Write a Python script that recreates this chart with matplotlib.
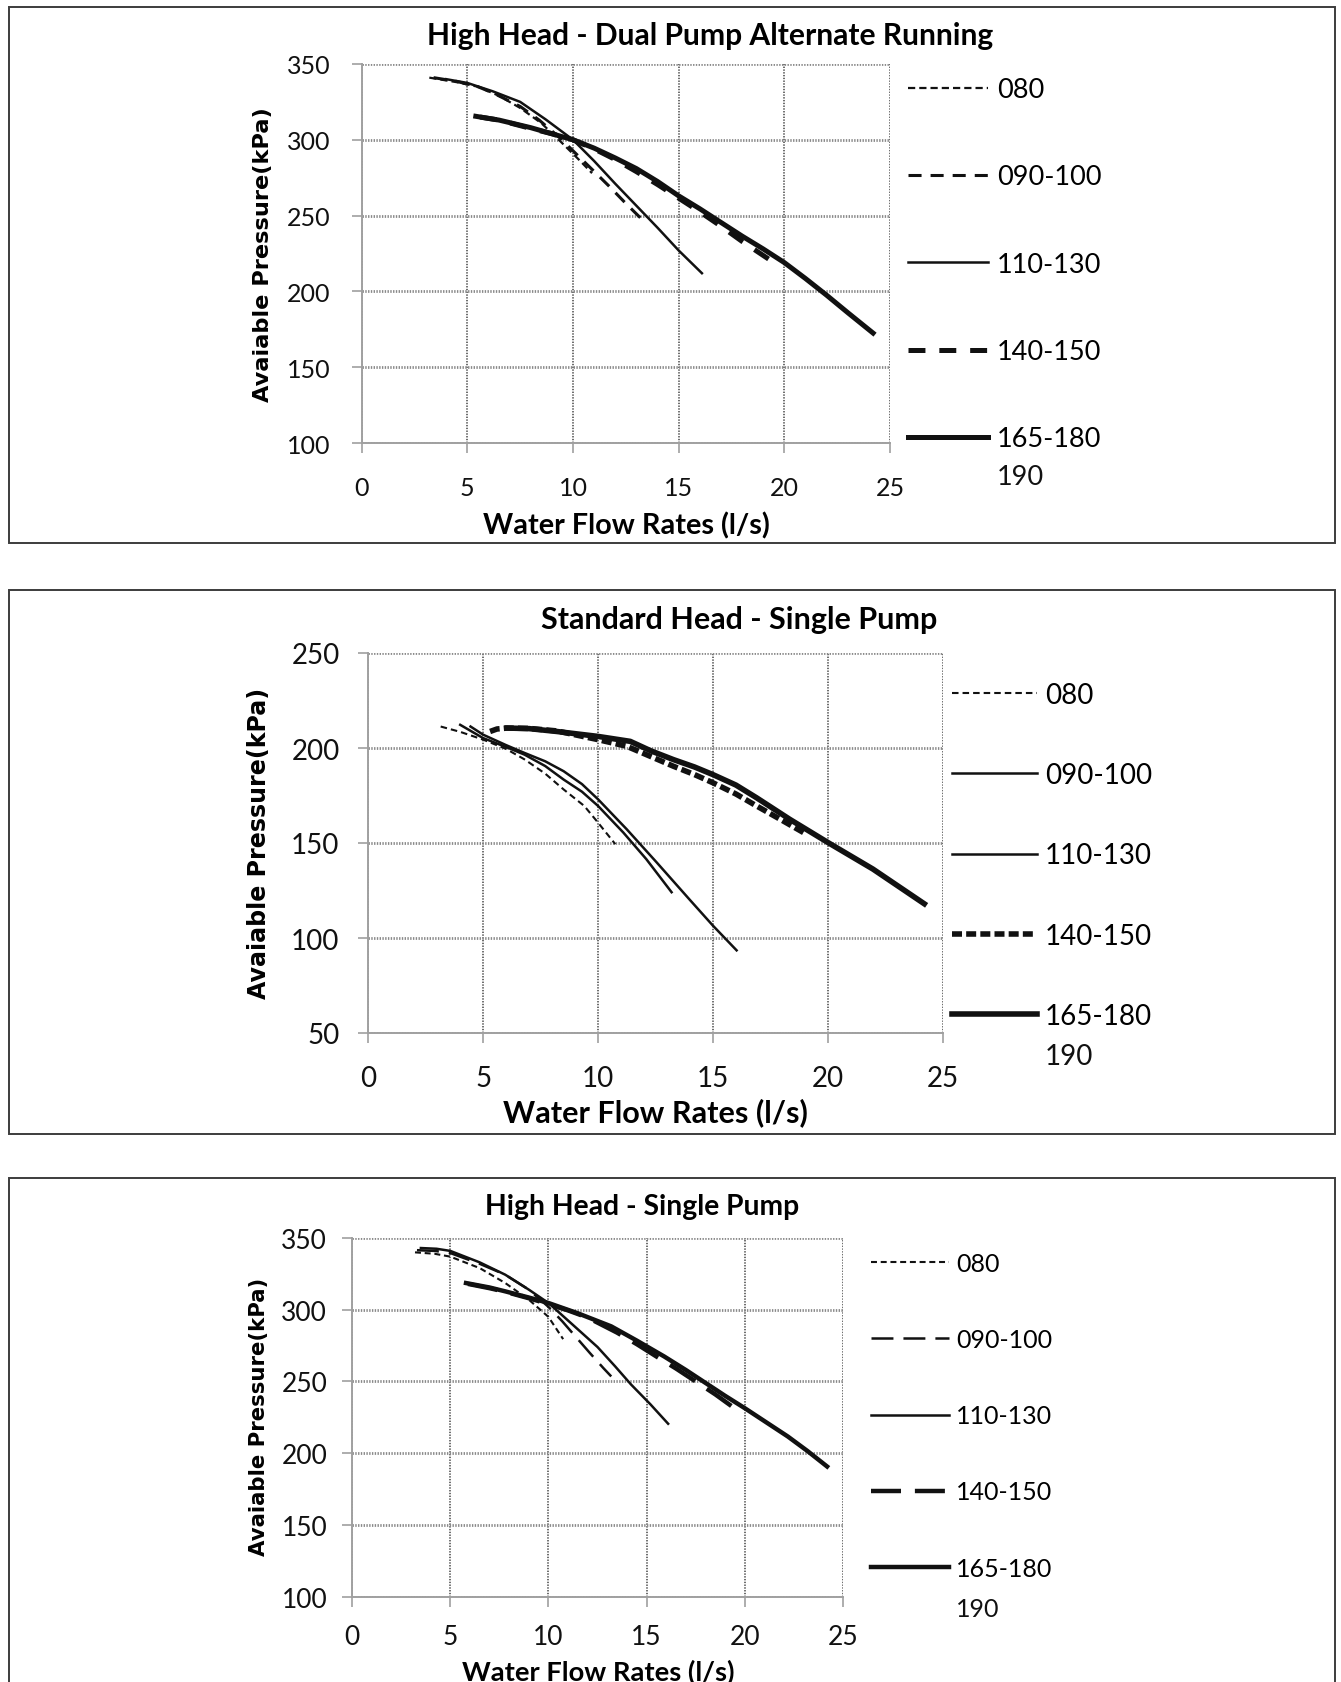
import matplotlib
matplotlib.use("Agg")
import matplotlib.pyplot as plt
from matplotlib.patches import Rectangle
from matplotlib.transforms import Bbox, TransformedBbox

W, H = 1341, 1683
plt.rcParams["font.family"] = ["Lato", "DejaVu Sans"]
plt.rcParams["lines.scale_dashes"] = False

SERIES = ["080", "090-100", "110-130", "140-150", "165-180"]

# ---- High Head - Dual Pump Alternate Running (flow l/s, pressure kPa) ----
dual_x = [
    [3.2, 4.5, 5.5, 6.5, 7.5, 8.5, 9.4, 10.2, 10.9],
    [3.4, 4.5, 5.5, 6.2, 7.5, 8.4, 9.4, 10.2, 10.9, 11.7, 12.5, 13.3],
    [4.0, 5.0, 6.2, 7.5, 8.7, 10.0, 11.0, 12.0, 13.0, 14.0, 15.0, 16.1],
    [5.6, 6.5, 8.0, 9.0, 10.0, 11.0, 12.0, 13.0, 14.0, 15.0, 16.0, 17.0, 18.0, 19.4],
    [5.4, 6.5, 8.0, 9.0, 10.0, 11.0, 12.0, 13.0, 14.0, 15.0, 16.0, 17.0, 18.0, 19.0,
     20.0, 21.0, 22.0, 23.0, 24.2],
]
dual_y = [
    [341, 338, 335, 329, 321, 311, 299, 288, 278],
    [341, 338.5, 335, 331, 322, 313, 301, 290, 280.5, 269.5, 258, 247],
    [340, 337.5, 332, 325, 313.5, 300, 286, 271, 256.5, 242, 227, 212],
    [315, 313, 307.5, 304, 300, 294, 287, 279, 270.5, 261.5, 252.5, 243, 233, 220],
    [315.5, 313, 308, 304, 300, 294.5, 288, 281, 272.5, 263, 254.5, 245.5, 236.5, 228,
     219, 208.5, 197.5, 186, 172.5],
]

# ---- Standard Head - Single Pump ----
std_x = [
    [3.15, 4.0, 5.0, 6.0, 6.8, 7.7, 8.5, 9.4, 10.0, 10.75],
    [4.0, 5.0, 6.0, 6.8, 7.7, 8.5, 9.3, 10.0, 11.1, 12.1, 13.2],
    [4.45, 5.0, 6.0, 6.8, 7.7, 8.5, 9.3, 10.0, 11.25, 12.55, 14.0, 15.0, 16.03],
    [5.3, 5.6, 6.04, 7.0, 8.2, 10.0, 11.25, 12.2, 13.28, 14.2, 15.0, 16.0, 16.9, 18.0, 19.07],
    [6.04, 7.0, 8.2, 10.0, 11.4, 12.3, 13.28, 14.2, 15.0, 16.0, 16.9, 18.34, 20.0, 21.96, 24.2],
]
std_y = [
    [211.3, 208.5, 204.4, 199.5, 194, 186.5, 178.2, 169.5, 160.7, 149.4],
    [212.2, 205.2, 200.5, 196.5, 190.5, 183.4, 177, 169.5, 155.5, 141.5, 124.1],
    [211.3, 207, 201.5, 197.4, 193, 187.8, 181, 173, 157.2, 139.8, 120, 106.5, 93.5],
    [208.7, 210, 210.5, 210.3, 209, 204.4, 200.9, 196, 190.4, 186, 181.7, 175.8, 169.5, 162, 154.6],
    [210.5, 210.2, 208.7, 206.1, 203.5, 198.5, 193.9, 190, 186, 180.5, 173.8, 162.5, 150.3, 136.3, 118],
]

# ---- High Head - Single Pump ----
single_x = [
    [3.2, 4.2, 5.0, 6.5, 7.8, 9.0, 10.0, 10.75],
    [3.3, 4.2, 5.0, 6.5, 7.8, 9.0, 10.0, 10.7, 11.4, 12.1, 12.8, 13.2],
    [3.5, 4.3, 5.0, 6.5, 7.8, 9.0, 10.0, 11.2, 12.5, 13.4, 14.2, 15.2, 16.1],
    [5.9, 7.0, 7.8, 9.0, 10.0, 11.0, 12.0, 13.5, 14.5, 15.5, 16.5, 17.5, 18.5, 19.35],
    [5.8, 7.0, 7.8, 9.0, 10.0, 11.5, 13.2, 14.5, 15.9, 17.0, 18.0, 19.0, 20.0, 21.1,
     22.2, 23.2, 24.2],
]
single_y = [
    [340, 339, 337, 329, 318.6, 307, 295, 279.5],
    [341.5, 341, 339.5, 332, 324.4, 314, 302, 292, 281, 270, 259.3, 253.5],
    [343, 342.5, 341, 333, 324.4, 314, 304.7, 290, 274, 260.5, 248, 234, 220.5],
    [318, 315, 312.5, 308, 304, 299.5, 294.5, 284, 276, 267.4, 259, 250, 241, 232.6],
    [318.6, 315.5, 312.8, 308.5, 304.7, 297.5, 288.4, 278.5, 267.4, 258, 249, 240, 231.4,
     221.5, 211.6, 201.5, 190.7],
]

xticks = [0, 5, 10, 15, 20, 25]
high_yticks = [100, 150, 200, 250, 300, 350]
std_yticks = [50, 100, 150, 200, 250]


def fx(px):
    return px / W


def fy(py):
    return 1 - py / H


def solid(lw):
    return ("-", lw)


def dash(on, off, lw):
    return ((0, (on, off)), lw)


# line styles per panel (points)
dual_styles = [dash(5.2, 2.9, 1.6), dash(9.4, 6.5, 2.2), solid(1.8),
               dash(12.2, 10.0, 3.6), solid(3.6)]
std_styles = [dash(4.7, 2.9, 1.5), solid(1.8), solid(1.8),
              dash(7.2, 3.0, 4.0), solid(4.0)]
single_styles = [dash(4.3, 2.7, 1.5), dash(15.8, 7.2, 1.8), solid(1.8),
                 dash(21.6, 10.0, 3.2), solid(3.2)]

fig = plt.figure(figsize=(W / 100, H / 100), dpi=100)
renderer = fig.canvas.get_renderer()


def fit(t, target, vertical=False):
    bb = t.get_window_extent(renderer)
    cur = bb.height if vertical else bb.width
    t.set_fontsize(t.get_fontsize() * target / cur)


def panel(box, ax_px, xs, ys, styles, yticks, title, lay):
    # outer frame of the chart
    x0, y0, x1, y1 = box
    fig.add_artist(Rectangle((fx(x0), fy(y1)), fx(x1 - x0), (y1 - y0) / H,
                             transform=fig.transFigure, fill=False,
                             edgecolor="#3c3c3c", lw=1.4))
    l, t, r, b = ax_px
    ax = fig.add_axes([fx(l), fy(b), fx(r - l), (b - t) / H])
    handles = []
    for x, y, (ls, lw) in zip(xs, ys, styles):
        ln, = ax.plot(x, y, color="#111111", ls=ls, lw=lw)
        handles.append(ln)
    ax.set_xlim(0, 25)
    ax.set_ylim(yticks[0], yticks[-1])
    ax.set_xticks(xticks)
    ax.set_yticks(yticks)
    ax.grid(axis="y", color="#8a8a8a", lw=2.0, ls=(0, (1, 1)))
    ax.grid(axis="x", color="#444444", lw=1.1, ls=(0, (1, 1)))
    for s in ("top", "right"):
        ax.spines[s].set_visible(False)
    for s in ("left", "bottom"):
        ax.spines[s].set_color("#a0a0a0")
        ax.spines[s].set_linewidth(1.4)
    ax.tick_params(axis="both", direction="out", length=7, width=1.2,
                   color="#a0a0a0", labelsize=lay["tick_fs"], labelcolor="#111111")
    ax.tick_params(axis="y", pad=lay["ypad"])
    ax.tick_params(axis="x", pad=lay["xpad"])

    tt = fig.text(fx(lay["title"][0]), fy(lay["title"][1]), title,
                  ha="center", va="center", fontweight="bold", fontsize=20)
    fit(tt, lay["title_w"])
    xl = fig.text(fx(lay["xlabel"][0]), fy(lay["xlabel"][1]), "Water Flow Rates (l/s)",
                  ha="center", va="center", fontweight="bold", fontsize=20)
    fit(xl, lay["xlabel_w"])
    yl = fig.text(fx(lay["ylabel"][0]), fy(lay["ylabel"][1]), "Avaiable Pressure(kPa)",
                  ha="center", va="center", rotation=90, fontweight="bold",
                  fontsize=16, family="DejaVu Sans")
    fit(yl, lay["ylabel_h"], vertical=True)

    # legend
    fs = lay["leg_fs"]
    fpx = fs / 0.72
    lx, ltop, lend, ltext, step = lay["legend"]
    leg = ax.legend(handles, SERIES, loc="upper left",
                    bbox_to_anchor=(fx(lx), fy(ltop - 0.365 * fpx)),
                    bbox_transform=fig.transFigure, frameon=False,
                    prop=dict(family="Lato", size=fs),
                    handlelength=(lend - lx) / fpx,
                    handletextpad=(ltext - lend) / fpx,
                    labelspacing=(step - 0.912 * fpx) / fpx,
                    borderpad=0, borderaxespad=0)
    # second line of the last label
    fig.text(fx(ltext), fy(lay["y190"] + 0.358 * fpx), "190", ha="left",
             va="baseline", fontsize=fs, family="Lato", color="#111111")
    if lay.get("clip_x"):
        clip = TransformedBbox(Bbox([[0, 0], [fx(lay["clip_x"]), 1]]), fig.transFigure)
        for t in leg.get_texts():
            t.set_clip_box(clip)
            t.set_clip_on(True)
    return ax


panel((8.6, 7.5, 1334.6, 544.4), (361.7, 65, 890, 444), dual_x, dual_y, dual_styles,
      high_yticks, "High Head - Dual Pump Alternate Running",
      dict(tick_fs=18, ypad=15.6, xpad=16.5, title=(709.7, 36), title_w=567,
           xlabel=(626, 526), xlabel_w=286, ylabel=(263, 255), ylabel_h=295,
           leg_fs=19.5, legend=(908, 88, 988, 997, 87.0), y190=475))

panel((8.6, 590.5, 1334.6, 1134.8), (368.3, 654, 942.7, 1034), std_x, std_y, std_styles,
      std_yticks, "Standard Head - Single Pump",
      dict(tick_fs=20, ypad=13.7, xpad=16, title=(738.7, 620), title_w=397,
           xlabel=(655, 1113), xlabel_w=305, ylabel=(259, 843), ylabel_h=311,
           leg_fs=20, legend=(952, 693, 1037, 1045, 79.6), y190=1055, clip_x=1155))

panel((8.6, 1179, 1334.6, 1700), (352.2, 1239, 842.8, 1597.6), single_x, single_y,
      single_styles, high_yticks, "High Head - Single Pump",
      dict(tick_fs=19, ypad=11, xpad=13, title=(642, 1207), title_w=313.5,
           xlabel=(598, 1672), xlabel_w=273, ylabel=(259, 1417), ylabel_h=279,
           leg_fs=18, legend=(871, 1262, 949, 956, 76.0), y190=1608))

fig.savefig("out.png", dpi=100)
